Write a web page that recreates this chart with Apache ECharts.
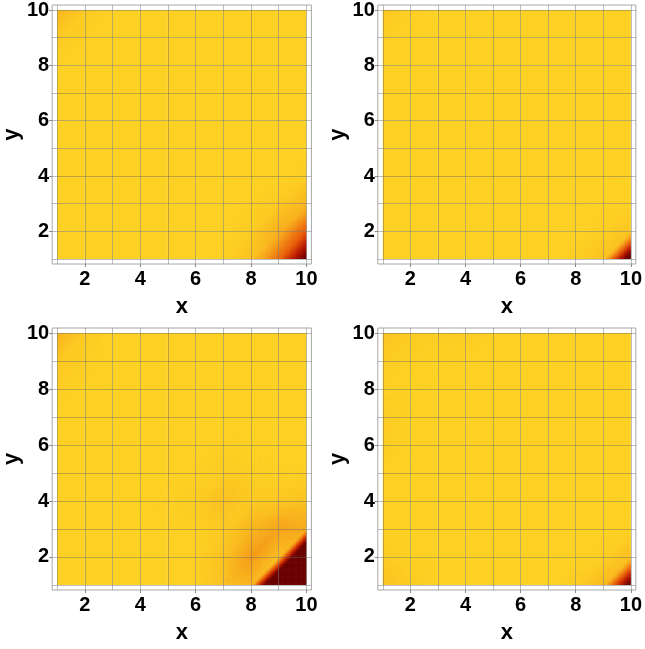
<!DOCTYPE html>
<html><head><meta charset="utf-8">
<script src="https://cdn.jsdelivr.net/npm/echarts@6/dist/echarts.min.js"></script>
<style>html,body{margin:0;padding:0;background:#fff}#c{width:645px;height:649px}</style>
</head><body><div id="c"></div>
<script>
// grid node coordinates
const xValues = [1, 2, 3, 4, 5, 6, 7, 8, 9, 10];
const yValues = [10, 9, 8, 7, 6, 5, 4, 3, 2, 1]; // row order (top to bottom)
const tickLabels = [2, 4, 6, 8, 10];

// values at grid nodes (1 = background yellow, 0 = dark maroon), rows y=10..1, columns x=1..10
const panel1 = [
  [0.86, 0.96, 1, 1, 1, 1, 1, 1, 1, 1],
  [0.96, 0.99, 1, 1, 1, 1, 1, 1, 1, 1],
  [1, 1, 1, 1, 1, 1, 1, 1, 1, 1],
  [1, 1, 1, 1, 1, 1, 1, 1, 1, 1],
  [1, 1, 1, 1, 1, 1, 1, 1, 1, 1],
  [1, 1, 1, 1, 1, 1, 1, 1, 1, 1],
  [1, 1, 1, 1, 1, 1, 1, 1, 1, 0.98],
  [1, 1, 1, 1, 1, 1, 1, 0.99, 0.95, 0.86],
  [1, 1, 1, 1, 1, 1, 1, 0.97, 0.82, 0.48],
  [1, 1, 1, 1, 1, 1, 0.99, 0.92, 0.55, -0.05]
];
const panel2 = [
  [0.95, 0.99, 1, 1, 1, 1, 1, 1, 1, 1],
  [0.99, 1, 1, 1, 1, 1, 1, 1, 1, 1],
  [1, 1, 1, 1, 1, 1, 1, 1, 1, 1],
  [1, 1, 1, 1, 1, 1, 1, 1, 1, 1],
  [1, 1, 1, 1, 1, 1, 1, 1, 1, 1],
  [1, 1, 1, 1, 1, 1, 1, 1, 1, 1],
  [1, 1, 1, 1, 1, 1, 1, 1, 1, 1],
  [1, 1, 1, 1, 1, 1, 1, 1, 1, 0.99],
  [1, 1, 1, 1, 1, 1, 1, 1, 0.98, 0.93],
  [1, 1, 1, 1, 1, 1, 1, 0.98, 0.92, -0.25]
];
const panel3 = [
  [0.84, 0.96, 1, 1, 1, 1, 1, 1, 1, 1],
  [0.95, 0.98, 1, 1, 1, 1, 1, 1, 1, 1],
  [0.98, 1, 1, 1, 1, 1, 1, 1, 1, 1],
  [1, 1, 1, 1, 1, 1, 1, 1, 1, 1],
  [1, 1, 1, 1, 1, 1, 0.99, 1, 1, 1],
  [1, 1, 1, 1, 1, 0.99, 0.97, 0.98, 0.99, 0.99],
  [1, 1, 1, 1, 0.99, 0.97, 0.91, 0.96, 0.94, 0.92],
  [1, 1, 1, 1, 1, 0.99, 0.96, 0.85, 0.76, 0.80],
  [1, 1, 1, 1, 1, 0.99, 0.92, 0.72, 0.90, -1.0],
  [1, 1, 1, 1, 1, 0.99, 0.91, 0.86, -1.0, -2.0]
];
const panel4 = [
  [0.93, 0.97, 0.98, 0.97, 0.99, 1, 1, 1, 1, 1],
  [0.97, 0.99, 1, 1, 1, 1, 1, 1, 1, 1],
  [1, 1, 1, 1, 1, 1, 1, 1, 1, 1],
  [0.97, 1, 1, 1, 1, 1, 1, 1, 1, 1],
  [0.97, 1, 1, 1, 1, 1, 1, 1, 1, 1],
  [1, 1, 1, 1, 1, 1, 1, 1, 1, 1],
  [1, 1, 1, 1, 1, 1, 1, 1, 1, 1],
  [1, 1, 1, 1, 1, 1, 1, 1, 1, 0.99],
  [0.97, 1, 1, 1, 1, 1, 1, 1, 0.98, 0.90],
  [0.92, 0.97, 1, 1, 1, 1, 1, 0.97, 0.88, -0.15]
];
const panels = [panel1, panel2, panel3, panel4];
const colorStops = ['#6B0000', '#B81800', '#E85A0A', '#F6A21A', '#FDD123'];

const FONT = '"Liberation Sans", Arial, sans-serif';
const chart = echarts.init(document.getElementById('c'), null, {renderer: 'canvas'});

function colorOf(v) {
  const t = Math.max(0, Math.min(1, v));
  return echarts.color.lerp(t, colorStops);
}

function buildCells(g) {
  const cells = [];
  for (let r = 0; r < yValues.length - 1; r++) {
    for (let c = 0; c < xValues.length - 1; c++) {
      cells.push([
        xValues[c], yValues[r + 1], xValues[c + 1], yValues[r],
        g[r + 1][c], g[r + 1][c + 1], g[r][c], g[r][c + 1]
      ]);
    }
  }
  return cells;
}

function renderItem(params, api) {
  const x0 = api.value(0), y0 = api.value(1), x1 = api.value(2), y1 = api.value(3);
  const v00 = api.value(4), v10 = api.value(5), v01 = api.value(6), v11 = api.value(7);
  const p0 = api.coord([x0, y0]);
  const p1 = api.coord([x1, y1]);
  const left = p0[0], bottom = p0[1], right = p1[0], top = p1[1];
  if (v00 === v10 && v00 === v01 && v00 === v11) {
    return {type: 'rect', shape: {x: left, y: top, width: right - left, height: bottom - top},
      style: {fill: colorOf(v00)}};
  }
  const N = 16;
  const cw = (right - left) / N, ch = (bottom - top) / N;
  const children = [];
  for (let i = 0; i < N; i++) {
    for (let j = 0; j < N; j++) {
      const u = (i + 0.5) / N, w = (j + 0.5) / N;
      let v;
      if (u >= w) v = v00 + u * (v10 - v00) + w * (v11 - v10);
      else v = v00 + w * (v01 - v00) + u * (v11 - v01);
      children.push({
        type: 'rect',
        shape: {x: left + cw * i, y: bottom - ch * (j + 1),
          width: cw + (i < N - 1 ? 0.6 : 0), height: ch + (j > 0 ? 0.6 : 0)},
        style: {fill: colorOf(v)}
      });
    }
  }
  return {type: 'group', children: children};
}

const gridPos = [
  {left: 49.8, top: 2},
  {left: 377.8, top: 2},
  {left: 49.8, top: 328},
  {left: 377.8, top: 328}
];

const grids = [], xAxes = [], yAxes = [], series = [];
const lineData = xValues.map(v => ({xAxis: v})).concat(yValues.map(v => ({yAxis: v})));
panels.forEach((g, k) => {
  grids.push({left: gridPos[k].left, top: gridPos[k].top, width: 261.6, height: 262,
    show: true, borderColor: '#A8A8A8', borderWidth: 1, backgroundColor: '#fff'});
  xAxes.push({
    gridIndex: k, type: 'value', min: 0.82, max: 10.18,
    name: 'x', nameLocation: 'middle', nameGap: 32,
    nameTextStyle: {fontSize: 22, fontWeight: 'bold', color: '#000', fontFamily: FONT},
    axisLine: {show: false}, splitLine: {show: false},
    axisTick: {show: true, customValues: tickLabels, length: 3, lineStyle: {color: '#888'}},
    axisLabel: {customValues: tickLabels, fontSize: 20, fontWeight: 'bold', color: '#000', margin: 5, fontFamily: FONT}
  });
  yAxes.push({
    gridIndex: k, type: 'value', min: 0.82, max: 10.18,
    name: 'y', nameLocation: 'middle', nameGap: 28, nameRotate: 90,
    nameTextStyle: {fontSize: 22, fontWeight: 'bold', color: '#000', fontFamily: FONT},
    axisLine: {show: false}, splitLine: {show: false},
    axisTick: {show: true, customValues: tickLabels, length: 3, lineStyle: {color: '#888'}},
    axisLabel: {customValues: tickLabels, fontSize: 20, fontWeight: 'bold', color: '#000', margin: 3, fontFamily: FONT}
  });
  series.push({
    type: 'custom', xAxisIndex: k, yAxisIndex: k,
    data: buildCells(g), renderItem: renderItem, silent: true, animation: false,
    markLine: {
      silent: true, symbol: ['none', 'none'], animation: false,
      label: {show: false},
      lineStyle: {color: 'rgba(100,100,100,0.42)', width: 1, type: 'solid'},
      data: lineData
    }
  });
});

chart.setOption({
  backgroundColor: '#fff',
  animation: false,
  grid: grids, xAxis: xAxes, yAxis: yAxes, series: series
});
</script>
</body></html>
